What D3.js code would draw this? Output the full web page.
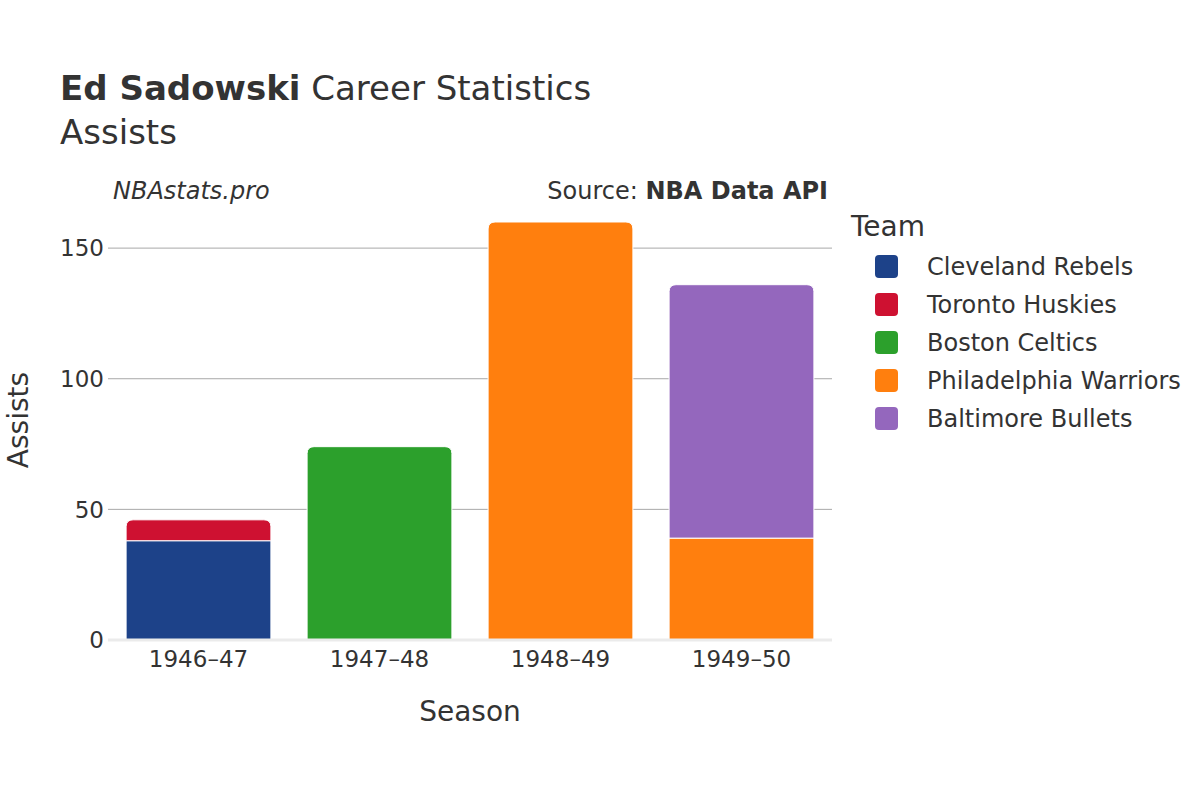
<!DOCTYPE html>
<html>
<head>
<meta charset="utf-8">
<script src="https://cdn.jsdelivr.net/npm/d3@7"></script>
<style>
  body { margin: 0; background: #fff; }
  text { font-family: "DejaVu Sans", sans-serif; fill: #333; }
</style>
</head>
<body>
<div id="chart"></div>
<script>
// data
const seasons = ["1946–47", "1947–48", "1948–49", "1949–50"];
const teams = ["Cleveland Rebels", "Toronto Huskies", "Boston Celtics", "Philadelphia Warriors", "Baltimore Bullets"];
const teamColors = ["#1d4289", "#ce1131", "#2ca02c", "#ff7f0e", "#9467bd"];
// one row per segment: season, team, assists (stack order as drawn)
const segSeason = ["1946–47", "1946–47", "1947–48", "1948–49", "1949–50", "1949–50"];
const segTeam = ["Cleveland Rebels", "Toronto Huskies", "Boston Celtics", "Philadelphia Warriors", "Philadelphia Warriors", "Baltimore Bullets"];
const segValue = [38, 8, 74, 160, 39, 97];
const yTicks = [0, 50, 100, 150];

const W = 1200, H = 800;
const margin = {top: 170, right: 368, bottom: 160, left: 108},
    width = W - margin.left - margin.right,
    height = H - margin.top - margin.bottom;

const svg = d3.select("#chart")
    .append("svg")
    .attr("width", W)
    .attr("height", H);

const g = svg.append("g")
    .attr("transform", `translate(${margin.left},${margin.top})`);

const x = d3.scaleBand()
    .domain(seasons)
    .range([0, width])
    .paddingInner(0.2)
    .paddingOuter(0.1);

const y = d3.scaleLinear()
    .domain([0, 179.9])
    .range([height, 0]);

const color = d3.scaleOrdinal().domain(teams).range(teamColors);

// gridlines
g.append("g")
    .selectAll("line")
    .data(yTicks.filter(d => d > 0))
    .join("line")
    .attr("x1", 0).attr("x2", width)
    .attr("y1", d => y(d)).attr("y2", d => y(d))
    .attr("stroke", "#a8a8a8")
    .attr("stroke-width", 1);

// y tick labels
g.append("g")
    .selectAll("text")
    .data(yTicks)
    .join("text")
    .attr("x", -4)
    .attr("y", d => y(d))
    .attr("dy", "0.36em")
    .attr("text-anchor", "end")
    .style("font-size", "23px")
    .text(d => d);

// stack the segments
const segs = [];
const tops = {};
segValue.forEach((v, i) => {
    const s = segSeason[i];
    const base = tops[s] || 0;
    segs.push({season: s, team: segTeam[i], y0: base, y1: base + v});
    tops[s] = base + v;
});
segs.forEach(d => { d.isTop = d.y1 === tops[d.season]; });

function barPath(d) {
    const x0 = x(d.season), x1 = x0 + x.bandwidth();
    const yb = y(d.y0), yt = y(d.y1);
    const r = d.isTop ? Math.min(7, (yb - yt) / 2) : 0;
    return `M${x0},${yb} L${x0},${yt + r} Q${x0},${yt} ${x0 + r},${yt} L${x1 - r},${yt} Q${x1},${yt} ${x1},${yt + r} L${x1},${yb} Z`;
}

g.append("g")
    .selectAll("path")
    .data(segs)
    .join("path")
    .attr("d", barPath)
    .attr("fill", d => color(d.team))
    .attr("stroke", "#fff")
    .attr("stroke-width", 1);

// zero line
g.append("line")
    .attr("x1", 0).attr("x2", width)
    .attr("y1", y(0)).attr("y2", y(0))
    .attr("stroke", "#ebebeb")
    .attr("stroke-width", 3);

// x axis labels
g.append("g")
    .selectAll("text")
    .data(seasons)
    .join("text")
    .attr("x", d => x(d) + x.bandwidth() / 2)
    .attr("y", height + 27)
    .attr("text-anchor", "middle")
    .style("font-size", "23px")
    .text(d => d);

// axis titles
svg.append("text")
    .attr("x", margin.left + width / 2)
    .attr("y", 721)
    .attr("text-anchor", "middle")
    .style("font-size", "28px")
    .text("Season");

svg.append("text")
    .attr("transform", "translate(28,420) rotate(-90)")
    .attr("text-anchor", "middle")
    .style("font-size", "28px")
    .text("Assists");

// titles
const title = svg.append("text")
    .attr("x", 60)
    .attr("y", 100)
    .style("font-size", "34px");
title.append("tspan").style("font-weight", "bold").text("Ed Sadowski");
title.append("tspan").text(" Career Statistics");

svg.append("text")
    .attr("x", 60)
    .attr("y", 144)
    .style("font-size", "34px")
    .text("Assists");

svg.append("text")
    .attr("x", 113)
    .attr("y", 199)
    .style("font-size", "24px")
    .style("font-style", "italic")
    .text("NBAstats.pro");

const src = svg.append("text")
    .attr("x", 828)
    .attr("y", 199)
    .attr("text-anchor", "end")
    .style("font-size", "24px");
src.append("tspan").text("Source: ");
src.append("tspan").style("font-weight", "bold").text("NBA Data API");

// legend
const legend = svg.append("g").attr("transform", "translate(851,0)");
legend.append("text")
    .attr("x", 0)
    .attr("y", 236)
    .style("font-size", "28px")
    .text("Team");

const items = legend.selectAll("g.item")
    .data(teams)
    .join("g")
    .attr("class", "item")
    .attr("transform", (d, i) => `translate(0,${266 + i * 38})`);

items.append("rect")
    .attr("x", 24).attr("y", -11)
    .attr("width", 23).attr("height", 23)
    .attr("rx", 4)
    .attr("fill", d => color(d));

items.append("text")
    .attr("x", 76)
    .attr("y", 0)
    .attr("dy", "0.36em")
    .style("font-size", "24px")
    .text(d => d);
</script>
</body>
</html>
